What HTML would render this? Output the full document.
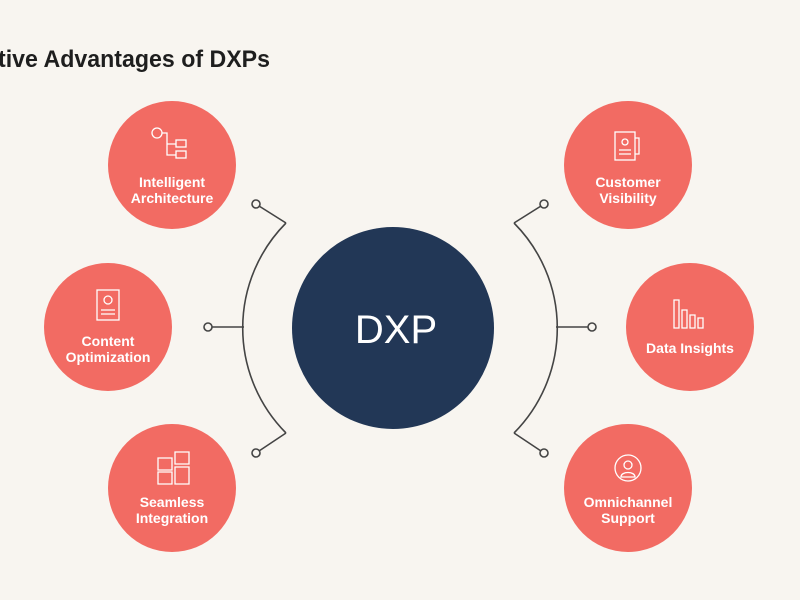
<!DOCTYPE html>
<html><head><style>
body{margin:0;width:800px;height:600px;background:#F8F5F0;overflow:hidden;font-family:"Liberation Sans",sans-serif}
svg{position:absolute;left:0;top:0}
</style></head><body>
<svg width="800" height="600" viewBox="0 0 800 600">
<text x="-2" y="67" font-size="24" font-family="Liberation Sans" fill="#1e1e1e" font-weight="600" textLength="272" lengthAdjust="spacingAndGlyphs">tive Advantages of DXPs</text>
<g fill="none" stroke="#444" stroke-width="1.6">
<path d="M286 223 A149 149 0 0 0 286 433"/>
<path d="M514 223 A149 149 0 0 1 514 433"/>
<line x1="286" y1="223" x2="259" y2="206"/><line x1="244" y1="327" x2="212" y2="327"/><line x1="286" y1="433" x2="259" y2="451"/>
<line x1="514" y1="223" x2="541" y2="206"/><line x1="556" y1="327" x2="588" y2="327"/><line x1="514" y1="433" x2="541" y2="451"/>
</g>
<g fill="#F8F5F0" stroke="#444" stroke-width="1.6">
<circle cx="256" cy="204" r="4"/><circle cx="208" cy="327" r="4"/><circle cx="256" cy="453" r="4"/>
<circle cx="544" cy="204" r="4"/><circle cx="592" cy="327" r="4"/><circle cx="544" cy="453" r="4"/>
</g>
<circle cx="393" cy="328" r="101" fill="#223756"/>
<text x="396" y="343" text-anchor="middle" font-size="40" fill="#fff" font-family="Liberation Sans">DXP</text>
<g fill="#F26B63">
<circle cx="172" cy="165" r="64"/><circle cx="108" cy="327" r="64"/><circle cx="172" cy="488" r="64"/>
<circle cx="628" cy="165" r="64"/><circle cx="690" cy="327" r="64"/><circle cx="628" cy="488" r="64"/>
</g>
<g fill="#fff" font-size="14" font-weight="bold" text-anchor="middle" font-family="Liberation Sans">
<text x="172" y="187">Intelligent</text><text x="172" y="203">Architecture</text>
<text x="108" y="346">Content</text><text x="108" y="362">Optimization</text>
<text x="172" y="507">Seamless</text><text x="172" y="523">Integration</text>
<text x="628" y="187">Customer</text><text x="628" y="203">Visibility</text>
<text x="690" y="353">Data Insights</text>
<text x="628" y="507">Omnichannel</text><text x="628" y="523">Support</text>
</g>
<g fill="none" stroke="#fff" stroke-width="1.3">
<circle cx="157" cy="133" r="5"/><path d="M162 133h5v22h9M167 144h9"/><rect x="176" y="140" width="10" height="7"/><rect x="176" y="151" width="10" height="7"/>
<rect x="97" y="290" width="22" height="30"/><circle cx="108" cy="300" r="4"/><path d="M101 310h14M101 314h14"/>
<path d="M158 458h14v12h-14zM175 452h14v12h-14zM158 472h14v12h-14zM175 467h14v17h-14z"/>
<rect x="615" y="132" width="20" height="28"/><path d="M635 138h4v16h-4"/><circle cx="625" cy="142" r="3"/><path d="M619 150h12M619 154h12"/>
<path d="M674 300h5v28h-5zM682 310h5v18h-5zM690 315h5v13h-5zM698 318h5v10h-5z"/>
<circle cx="628" cy="468" r="13"/><circle cx="628" cy="465" r="4"/><path d="M621 477c0-6 14-6 14 0z"/>
</g>
</svg>
</body></html>
